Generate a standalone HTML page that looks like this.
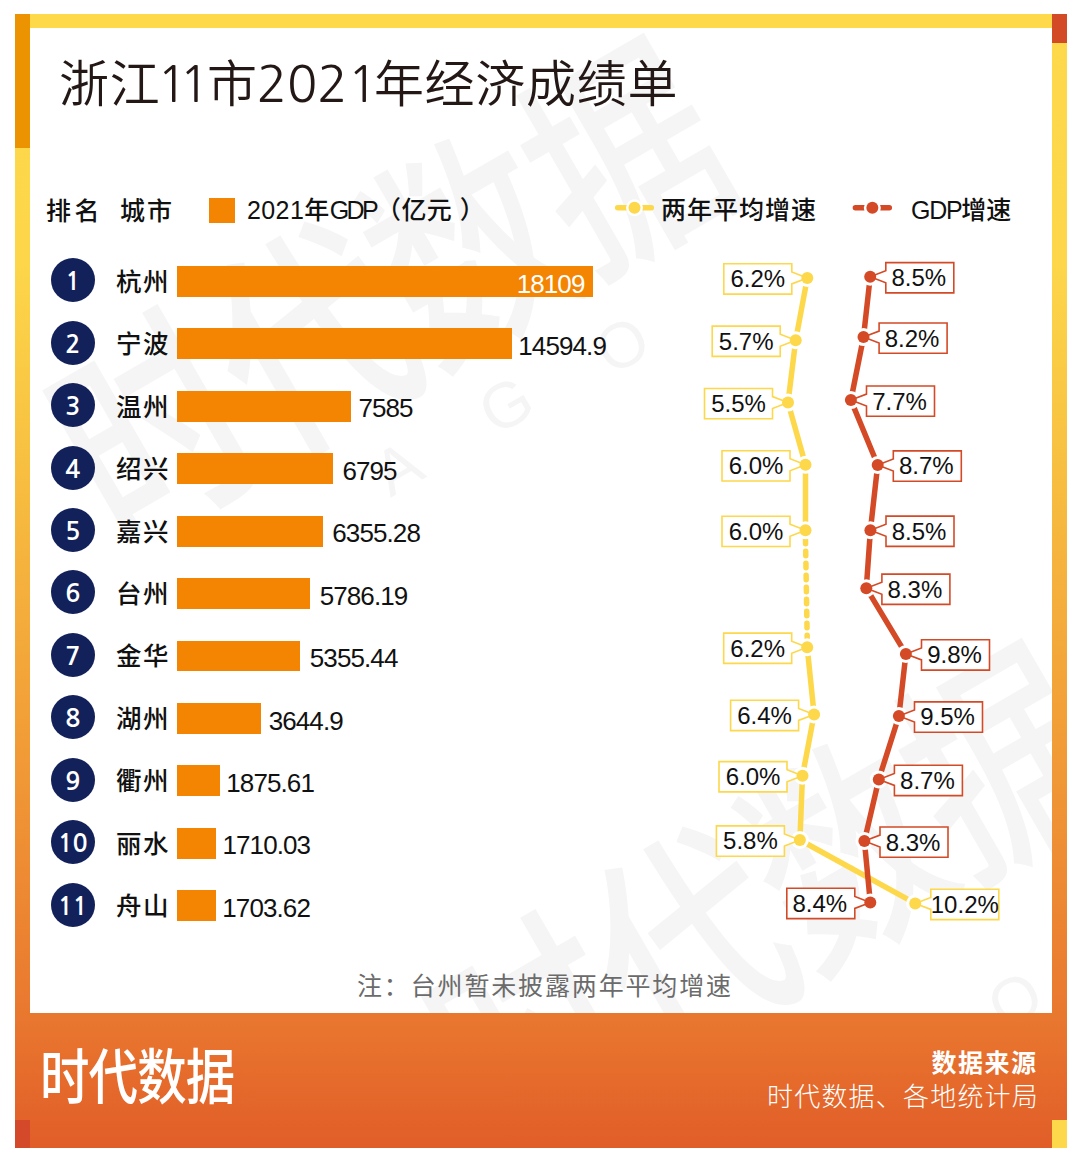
<!DOCTYPE html>
<html lang="zh-CN"><head><meta charset="utf-8"><title>浙江11市2021年经济成绩单</title>
<style>
html,body{margin:0;padding:0;background:#fff;}
body{width:1080px;height:1167px;position:relative;overflow:hidden;font-family:"Liberation Sans", "Noto Sans CJK SC", sans-serif;}
.a{position:absolute;white-space:nowrap;}
.frame{position:absolute;left:15px;top:14px;width:1051.5px;height:1134px;
 background:linear-gradient(180deg,#fed94a 0px,#fdd64a 250px,#f8c342 420px,#f2a038 700px,#e9782f 1000px,#e15d28 1134px);}
.inner{position:absolute;left:29.5px;top:28px;width:1022.5px;height:985px;background:#fff;}
.t{font-family:"Liberation Sans", "Noto Sans CJK SC", sans-serif;}
.row-name{font-size:25.5px;font-weight:500;color:#111;letter-spacing:1.5px;}
.num{position:absolute;width:44px;height:44px;border-radius:50%;background:#13215a;color:#fff;text-align:center;font-size:25px;line-height:47px;font-family:"NanumGothic","Liberation Sans",sans-serif;font-weight:700;letter-spacing:-0.5px;}
.bar{position:absolute;background:#f38502;}
.td{font-family:"NanumGothic","Liberation Sans",sans-serif;font-size:50px;font-weight:400;letter-spacing:-3px;}
.val{font-size:26px;letter-spacing:-0.9px;color:#111;}
</style></head><body>

<div class="frame"></div>
<div class="a" style="left:15px;top:14px;width:14.5px;height:134px;background:#eb9300"></div>
<div class="a" style="left:1052px;top:14px;width:14.5px;height:29px;background:#d24a26"></div>
<div class="a" style="left:15px;top:1120px;width:14.5px;height:28px;background:#d3492a"></div>
<div class="a" style="left:1052px;top:1120px;width:14.5px;height:28px;background:#fdd84a"></div>
<div class="inner"></div>
<div class="a" style="left:29.5px;top:28px;width:1022.5px;height:985px;overflow:hidden"><div class="a" style="left:362.5px;top:272px;font-size:230px;line-height:1;font-weight:500;color:#f5f5f5;transform:rotate(-30deg) scaleX(0.8) translate(-50%,-50%);transform-origin:0 0;font-family:'Liberation Sans','Noto Sans CJK SC',sans-serif;letter-spacing:-3.8px">时代数据</div><div class="a" style="left:740.5px;top:877px;font-size:230px;line-height:1;font-weight:500;color:#f5f5f5;transform:rotate(-30deg) scaleX(0.8) translate(-50%,-50%);transform-origin:0 0;font-family:'Liberation Sans','Noto Sans CJK SC',sans-serif;letter-spacing:-3.8px">时代数据</div><div class="a" style="left:368.5px;top:440px;font-size:64px;line-height:1;font-weight:300;color:#f5f5f5;transform:rotate(-30deg) translate(-50%,-50%);transform-origin:0 0;font-family:'Liberation Sans','Noto Sans CJK SC',sans-serif">A</div><div class="a" style="left:476.5px;top:377px;font-size:64px;line-height:1;font-weight:300;color:#f5f5f5;transform:rotate(-30deg) translate(-50%,-50%);transform-origin:0 0;font-family:'Liberation Sans','Noto Sans CJK SC',sans-serif">G</div><div class="a" style="left:592.5px;top:317px;font-size:64px;line-height:1;font-weight:300;color:#f5f5f5;transform:rotate(-30deg) translate(-50%,-50%);transform-origin:0 0;font-family:'Liberation Sans','Noto Sans CJK SC',sans-serif">O</div><div class="a" style="left:985.5px;top:972px;font-size:64px;line-height:1;font-weight:300;color:#f5f5f5;transform:rotate(-30deg) translate(-50%,-50%);transform-origin:0 0;font-family:'Liberation Sans','Noto Sans CJK SC',sans-serif">O</div></div>
<div class="a" style="left:59px;top:48px;font-size:50px;line-height:72px;font-weight:350;color:#231815;letter-spacing:0.7px;font-family:'Liberation Sans','Noto Sans CJK SC',sans-serif">浙江<span class="td" style="margin-left:-3.5px;letter-spacing:-7.9px">1</span><span class="td" style="letter-spacing:-2.6px">1</span>市<span class="td" style="margin-left:-1px;margin-right:-4px;letter-spacing:0">2021</span>年经济成绩单</div>
<div class="a" style="left:46px;top:192.5px;font-size:25px;line-height:36px;font-weight:500;color:#111;letter-spacing:3.5px">排名</div>
<div class="a" style="left:120px;top:192.5px;font-size:25px;line-height:36px;font-weight:500;color:#111;letter-spacing:2px">城市</div>
<div class="a" style="left:209px;top:198px;width:26px;height:25px;background:#f38502"></div>
<div class="a" style="left:247px;top:192px;font-size:25px;line-height:36px;font-weight:500;color:#111;letter-spacing:0.4px">2021年<span style="letter-spacing:-2.6px">GDP</span>（亿<span style="letter-spacing:8px">元</span>）</div>
<div class="a" style="left:661px;top:192px;font-size:25px;line-height:36px;font-weight:500;color:#111;letter-spacing:1px">两年平均增速</div>
<div class="a" style="left:911px;top:192px;font-size:25px;line-height:36px;font-weight:500;color:#111;letter-spacing:0px"><span style="letter-spacing:-1.3px">GDP</span>增速</div>
<div class="num" style="left:50.5px;top:258.2px">1</div>
<div class="a row-name" style="left:116px;top:263.7px;line-height:36px">杭州</div>
<div class="bar" style="left:177.2px;top:265.9px;width:415.8px;height:30.9px"></div>
<div class="a val" style="right:495.5px;top:265.9px;line-height:36px;color:#fff">18109</div>
<div class="num" style="left:50.5px;top:320.6px">2</div>
<div class="a row-name" style="left:116px;top:326.1px;line-height:36px">宁波</div>
<div class="bar" style="left:177.2px;top:328.3px;width:335.1px;height:30.9px"></div>
<div class="a val" style="left:518.3px;top:327.8px;line-height:36px">14594.9</div>
<div class="num" style="left:50.5px;top:383.1px">3</div>
<div class="a row-name" style="left:116px;top:388.6px;line-height:36px">温州</div>
<div class="bar" style="left:177.2px;top:390.8px;width:174.2px;height:30.9px"></div>
<div class="a val" style="left:358.4px;top:390.3px;line-height:36px">7585</div>
<div class="num" style="left:50.5px;top:445.5px">4</div>
<div class="a row-name" style="left:116px;top:451.0px;line-height:36px">绍兴</div>
<div class="bar" style="left:177.2px;top:453.2px;width:156.0px;height:30.9px"></div>
<div class="a val" style="left:342.4px;top:452.7px;line-height:36px">6795</div>
<div class="num" style="left:50.5px;top:508.0px">5</div>
<div class="a row-name" style="left:116px;top:513.5px;line-height:36px">嘉兴</div>
<div class="bar" style="left:177.2px;top:515.7px;width:145.9px;height:30.9px"></div>
<div class="a val" style="left:332.3px;top:515.2px;line-height:36px">6355.28</div>
<div class="num" style="left:50.5px;top:570.4px">6</div>
<div class="a row-name" style="left:116px;top:575.9px;line-height:36px">台州</div>
<div class="bar" style="left:177.2px;top:578.1px;width:132.9px;height:30.9px"></div>
<div class="a val" style="left:319.7px;top:577.6px;line-height:36px">5786.19</div>
<div class="num" style="left:50.5px;top:632.8px">7</div>
<div class="a row-name" style="left:116px;top:638.3px;line-height:36px">金华</div>
<div class="bar" style="left:177.2px;top:640.5px;width:123.0px;height:30.9px"></div>
<div class="a val" style="left:309.8px;top:640.0px;line-height:36px">5355.44</div>
<div class="num" style="left:50.5px;top:695.3px">8</div>
<div class="a row-name" style="left:116px;top:700.8px;line-height:36px">湖州</div>
<div class="bar" style="left:177.2px;top:703.0px;width:83.7px;height:30.9px"></div>
<div class="a val" style="left:268.7px;top:702.5px;line-height:36px">3644.9</div>
<div class="num" style="left:50.5px;top:757.7px">9</div>
<div class="a row-name" style="left:116px;top:763.2px;line-height:36px">衢州</div>
<div class="bar" style="left:177.2px;top:765.4px;width:43.1px;height:30.9px"></div>
<div class="a val" style="left:226.3px;top:764.9px;line-height:36px">1875.61</div>
<div class="num" style="left:50.5px;top:820.2px">10</div>
<div class="a row-name" style="left:116px;top:825.7px;line-height:36px">丽水</div>
<div class="bar" style="left:177.2px;top:827.9px;width:39.3px;height:30.9px"></div>
<div class="a val" style="left:222.5px;top:827.4px;line-height:36px">1710.03</div>
<div class="num" style="left:50.5px;top:882.6px">11</div>
<div class="a row-name" style="left:116px;top:888.1px;line-height:36px">舟山</div>
<div class="bar" style="left:177.2px;top:890.3px;width:39.1px;height:30.9px"></div>
<div class="a val" style="left:222.3px;top:889.8px;line-height:36px">1703.62</div>
<svg class="a" style="left:0;top:0" width="1080" height="1167" viewBox="0 0 1080 1167">
<line x1="617.7" y1="207.8" x2="651.3" y2="207.8" stroke="#fdd84a" stroke-width="5.5" stroke-linecap="round"/>
<circle cx="634.5" cy="207.8" r="8.5" fill="#fff"/><circle cx="634.5" cy="207.8" r="6" fill="#fdd84a"/>
<line x1="855.4000000000001" y1="207.8" x2="889.3" y2="207.8" stroke="#d44a26" stroke-width="5.5" stroke-linecap="round"/>
<circle cx="872.35" cy="207.8" r="8.5" fill="#fff"/><circle cx="872.35" cy="207.8" r="6" fill="#d44a26"/>
<polyline points="807.3,277.9 795.7,340.2 788.0,402.6 805.5,464.8 805.5,530.3" fill="none" stroke="#fdd84a" stroke-width="5.5" stroke-linejoin="round"/>
<line x1="805.5" y1="539.3" x2="807.2" y2="638.2" stroke="#fdd84a" stroke-width="5.5" stroke-linecap="round" stroke-dasharray="4.5 7.5"/>
<polyline points="807.2,647.2 814.1,714.4 802.5,775.7 799.9,840.0 915.2,903.4" fill="none" stroke="#fdd84a" stroke-width="5.5" stroke-linejoin="round"/>
<polyline points="870.2,276.7 863.5,337.1 850.9,400.1 877.7,465.0 870.4,530.2 866.3,588.2 905.9,653.9 898.9,716.0 878.8,779.4 864.4,841.1 870.3,902.4" fill="none" stroke="#d44a26" stroke-width="5.5" stroke-linejoin="round"/>
<circle cx="807.3" cy="277.9" r="9" fill="#fff"/>
<circle cx="795.7" cy="340.2" r="9" fill="#fff"/>
<circle cx="788.0" cy="402.6" r="9" fill="#fff"/>
<circle cx="805.5" cy="464.8" r="9" fill="#fff"/>
<circle cx="805.5" cy="530.3" r="9" fill="#fff"/>
<circle cx="807.2" cy="647.2" r="9" fill="#fff"/>
<circle cx="814.1" cy="714.4" r="9" fill="#fff"/>
<circle cx="802.5" cy="775.7" r="9" fill="#fff"/>
<circle cx="799.9" cy="840.0" r="9" fill="#fff"/>
<circle cx="915.2" cy="903.4" r="9" fill="#fff"/>
<circle cx="870.2" cy="276.7" r="9" fill="#fff"/>
<circle cx="863.5" cy="337.1" r="9" fill="#fff"/>
<circle cx="850.9" cy="400.1" r="9" fill="#fff"/>
<circle cx="877.7" cy="465.0" r="9" fill="#fff"/>
<circle cx="870.4" cy="530.2" r="9" fill="#fff"/>
<circle cx="866.3" cy="588.2" r="9" fill="#fff"/>
<circle cx="905.9" cy="653.9" r="9" fill="#fff"/>
<circle cx="898.9" cy="716.0" r="9" fill="#fff"/>
<circle cx="878.8" cy="779.4" r="9" fill="#fff"/>
<circle cx="864.4" cy="841.1" r="9" fill="#fff"/>
<circle cx="870.3" cy="902.4" r="9" fill="#fff"/>
<path d="M723.8,263.79999999999995 H791.8 V271.9 L807.3,277.9 L791.8,283.9 V294.09999999999997 H723.8 Z" fill="#fff" stroke="#fdd84a" stroke-width="1.6"/>
<text x="757.8" y="287.3" text-anchor="middle" font-family='"Liberation Sans","Noto Sans CJK SC",sans-serif' font-size="24" fill="#111">6.2%</text>
<path d="M712.2,326.09999999999997 H780.2 V334.2 L795.7,340.2 L780.2,346.2 V356.4 H712.2 Z" fill="#fff" stroke="#fdd84a" stroke-width="1.6"/>
<text x="746.2" y="349.6" text-anchor="middle" font-family='"Liberation Sans","Noto Sans CJK SC",sans-serif' font-size="24" fill="#111">5.7%</text>
<path d="M704.5,388.5 H772.5 V396.6 L788.0,402.6 L772.5,408.6 V418.8 H704.5 Z" fill="#fff" stroke="#fdd84a" stroke-width="1.6"/>
<text x="738.5" y="412.0" text-anchor="middle" font-family='"Liberation Sans","Noto Sans CJK SC",sans-serif' font-size="24" fill="#111">5.5%</text>
<path d="M722.0,450.7 H790.0 V458.8 L805.5,464.8 L790.0,470.8 V481.0 H722.0 Z" fill="#fff" stroke="#fdd84a" stroke-width="1.6"/>
<text x="756.0" y="474.2" text-anchor="middle" font-family='"Liberation Sans","Noto Sans CJK SC",sans-serif' font-size="24" fill="#111">6.0%</text>
<path d="M722.0,516.1999999999999 H790.0 V524.3 L805.5,530.3 L790.0,536.3 V546.4999999999999 H722.0 Z" fill="#fff" stroke="#fdd84a" stroke-width="1.6"/>
<text x="756.0" y="539.7" text-anchor="middle" font-family='"Liberation Sans","Noto Sans CJK SC",sans-serif' font-size="24" fill="#111">6.0%</text>
<path d="M723.7,633.1 H791.7 V641.2 L807.2,647.2 L791.7,653.2 V663.4 H723.7 Z" fill="#fff" stroke="#fdd84a" stroke-width="1.6"/>
<text x="757.7" y="656.6" text-anchor="middle" font-family='"Liberation Sans","Noto Sans CJK SC",sans-serif' font-size="24" fill="#111">6.2%</text>
<path d="M730.6,700.3 H798.6 V708.4 L814.1,714.4 L798.6,720.4 V730.5999999999999 H730.6 Z" fill="#fff" stroke="#fdd84a" stroke-width="1.6"/>
<text x="764.6" y="723.8" text-anchor="middle" font-family='"Liberation Sans","Noto Sans CJK SC",sans-serif' font-size="24" fill="#111">6.4%</text>
<path d="M719.0,761.6 H787.0 V769.7 L802.5,775.7 L787.0,781.7 V791.9 H719.0 Z" fill="#fff" stroke="#fdd84a" stroke-width="1.6"/>
<text x="753.0" y="785.1" text-anchor="middle" font-family='"Liberation Sans","Noto Sans CJK SC",sans-serif' font-size="24" fill="#111">6.0%</text>
<path d="M716.4,825.9 H784.4 V834.0 L799.9,840.0 L784.4,846.0 V856.1999999999999 H716.4 Z" fill="#fff" stroke="#fdd84a" stroke-width="1.6"/>
<text x="750.4" y="849.4" text-anchor="middle" font-family='"Liberation Sans","Noto Sans CJK SC",sans-serif' font-size="24" fill="#111">5.8%</text>
<path d="M998.8000000000001,889.3 H930.8000000000001 V897.4 L915.2,903.4 L930.8000000000001,909.4 V919.5999999999999 H998.8000000000001 Z" fill="#fff" stroke="#fdd84a" stroke-width="1.6"/>
<text x="964.8" y="912.8" text-anchor="middle" font-family='"Liberation Sans","Noto Sans CJK SC",sans-serif' font-size="24" fill="#111">10.2%</text>
<path d="M953.8000000000001,262.59999999999997 H885.8000000000001 V270.7 L870.2,276.7 L885.8000000000001,282.7 V292.9 H953.8000000000001 Z" fill="#fff" stroke="#d44a26" stroke-width="1.6"/>
<text x="918.8" y="286.1" text-anchor="middle" font-family='"Liberation Sans","Noto Sans CJK SC",sans-serif' font-size="24" fill="#111">8.5%</text>
<path d="M947.1,323.0 H879.1 V331.1 L863.5,337.1 L879.1,343.1 V353.3 H947.1 Z" fill="#fff" stroke="#d44a26" stroke-width="1.6"/>
<text x="912.1" y="346.5" text-anchor="middle" font-family='"Liberation Sans","Noto Sans CJK SC",sans-serif' font-size="24" fill="#111">8.2%</text>
<path d="M934.5,386.0 H866.5 V394.1 L850.9,400.1 L866.5,406.1 V416.3 H934.5 Z" fill="#fff" stroke="#d44a26" stroke-width="1.6"/>
<text x="899.5" y="409.5" text-anchor="middle" font-family='"Liberation Sans","Noto Sans CJK SC",sans-serif' font-size="24" fill="#111">7.7%</text>
<path d="M961.3000000000001,450.9 H893.3000000000001 V459.0 L877.7,465.0 L893.3000000000001,471.0 V481.2 H961.3000000000001 Z" fill="#fff" stroke="#d44a26" stroke-width="1.6"/>
<text x="926.3" y="474.4" text-anchor="middle" font-family='"Liberation Sans","Noto Sans CJK SC",sans-serif' font-size="24" fill="#111">8.7%</text>
<path d="M954.0,516.1 H886.0 V524.2 L870.4,530.2 L886.0,536.2 V546.4 H954.0 Z" fill="#fff" stroke="#d44a26" stroke-width="1.6"/>
<text x="919.0" y="539.6" text-anchor="middle" font-family='"Liberation Sans","Noto Sans CJK SC",sans-serif' font-size="24" fill="#111">8.5%</text>
<path d="M949.9,574.1 H881.9 V582.2 L866.3,588.2 L881.9,594.2 V604.4 H949.9 Z" fill="#fff" stroke="#d44a26" stroke-width="1.6"/>
<text x="914.9" y="597.6" text-anchor="middle" font-family='"Liberation Sans","Noto Sans CJK SC",sans-serif' font-size="24" fill="#111">8.3%</text>
<path d="M989.5,639.8 H921.5 V647.9 L905.9,653.9 L921.5,659.9 V670.0999999999999 H989.5 Z" fill="#fff" stroke="#d44a26" stroke-width="1.6"/>
<text x="954.5" y="663.3" text-anchor="middle" font-family='"Liberation Sans","Noto Sans CJK SC",sans-serif' font-size="24" fill="#111">9.8%</text>
<path d="M982.5,701.9 H914.5 V710.0 L898.9,716.0 L914.5,722.0 V732.1999999999999 H982.5 Z" fill="#fff" stroke="#d44a26" stroke-width="1.6"/>
<text x="947.5" y="725.4" text-anchor="middle" font-family='"Liberation Sans","Noto Sans CJK SC",sans-serif' font-size="24" fill="#111">9.5%</text>
<path d="M962.4,765.3 H894.4 V773.4 L878.8,779.4 L894.4,785.4 V795.5999999999999 H962.4 Z" fill="#fff" stroke="#d44a26" stroke-width="1.6"/>
<text x="927.4" y="788.8" text-anchor="middle" font-family='"Liberation Sans","Noto Sans CJK SC",sans-serif' font-size="24" fill="#111">8.7%</text>
<path d="M948.0,827.0 H880.0 V835.1 L864.4,841.1 L880.0,847.1 V857.3 H948.0 Z" fill="#fff" stroke="#d44a26" stroke-width="1.6"/>
<text x="913.0" y="850.5" text-anchor="middle" font-family='"Liberation Sans","Noto Sans CJK SC",sans-serif' font-size="24" fill="#111">8.3%</text>
<path d="M786.8,888.3 H854.8 V896.4 L870.3,902.4 L854.8,908.4 V918.5999999999999 H786.8 Z" fill="#fff" stroke="#d44a26" stroke-width="1.6"/>
<text x="819.8" y="911.8" text-anchor="middle" font-family='"Liberation Sans","Noto Sans CJK SC",sans-serif' font-size="24" fill="#111">8.4%</text>
<circle cx="807.3" cy="277.9" r="6" fill="#fdd84a"/>
<circle cx="795.7" cy="340.2" r="6" fill="#fdd84a"/>
<circle cx="788.0" cy="402.6" r="6" fill="#fdd84a"/>
<circle cx="805.5" cy="464.8" r="6" fill="#fdd84a"/>
<circle cx="805.5" cy="530.3" r="6" fill="#fdd84a"/>
<circle cx="807.2" cy="647.2" r="6" fill="#fdd84a"/>
<circle cx="814.1" cy="714.4" r="6" fill="#fdd84a"/>
<circle cx="802.5" cy="775.7" r="6" fill="#fdd84a"/>
<circle cx="799.9" cy="840.0" r="6" fill="#fdd84a"/>
<circle cx="915.2" cy="903.4" r="6" fill="#fdd84a"/>
<circle cx="870.2" cy="276.7" r="6" fill="#d44a26"/>
<circle cx="863.5" cy="337.1" r="6" fill="#d44a26"/>
<circle cx="850.9" cy="400.1" r="6" fill="#d44a26"/>
<circle cx="877.7" cy="465.0" r="6" fill="#d44a26"/>
<circle cx="870.4" cy="530.2" r="6" fill="#d44a26"/>
<circle cx="866.3" cy="588.2" r="6" fill="#d44a26"/>
<circle cx="905.9" cy="653.9" r="6" fill="#d44a26"/>
<circle cx="898.9" cy="716.0" r="6" fill="#d44a26"/>
<circle cx="878.8" cy="779.4" r="6" fill="#d44a26"/>
<circle cx="864.4" cy="841.1" r="6" fill="#d44a26"/>
<circle cx="870.3" cy="902.4" r="6" fill="#d44a26"/>
</svg>
<div class="a" style="left:357px;top:968px;font-size:25px;line-height:36px;font-weight:400;color:#6b6b6b;letter-spacing:1.85px">注：台州暂未披露两年平均增速</div>
<div class="a" style="left:39.5px;top:1036.5px;font-size:60px;line-height:84px;font-weight:500;color:#fff;letter-spacing:-1px;transform:scaleX(0.824);transform-origin:0 0;font-family:'Liberation Sans','Noto Sans CJK SC',sans-serif">时代数据</div>
<div class="a" style="right:42.5px;top:1044.5px;font-size:25px;line-height:36px;font-weight:700;color:#fff;letter-spacing:1.5px">数据来源</div>
<div class="a" style="right:41px;top:1079px;font-size:26px;line-height:36px;font-weight:300;color:#fff;letter-spacing:1.2px">时代数据、各地统计局</div>
</body></html>
